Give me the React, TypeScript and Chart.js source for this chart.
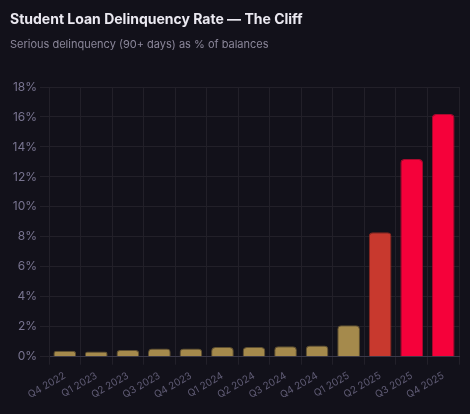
import React, { useEffect, useRef } from "react";
import { Chart, registerables } from "chart.js";

Chart.register(...registerables);

const categories = [
  "Q4 2022", "Q1 2023", "Q2 2023", "Q3 2023", "Q4 2023", "Q1 2024", "Q2 2024",
  "Q3 2024", "Q4 2024", "Q1 2025", "Q2 2025", "Q3 2025", "Q4 2025",
];
const rates = [0.4, 0.35, 0.45, 0.55, 0.55, 0.65, 0.65, 0.7, 0.75, 2.1, 8.3, 13.2, 16.2];
const barColors = [
  "#a58a4c", "#a58a4c", "#a58a4c", "#a58a4c", "#a58a4c", "#a58a4c", "#a58a4c",
  "#a58a4c", "#a58a4c", "#a58a4c", "#c8392e", "#f5013a", "#f5013a",
];
const borderColors = [
  "#5e4f30", "#5e4f30", "#5e4f30", "#5e4f30", "#5e4f30", "#5e4f30", "#5e4f30",
  "#5e4f30", "#5e4f30", "#5e4f30", "#8a2820", "#a80a2e", "#a80a2e",
];

const BG = "#12111a";

export default function App() {
  const ref = useRef<HTMLCanvasElement>(null);
  useEffect(() => {
    document.body.style.margin = "0";
    document.body.style.background = BG;
    const chart = new Chart(ref.current!, {
      type: "bar",
      data: {
        labels: categories,
        datasets: [
          {
            data: rates,
            backgroundColor: barColors,
            borderColor: borderColors,
            borderWidth: 1,
            borderRadius: 4,
            borderSkipped: "bottom",
          },
        ],
      },
      options: {
        animation: false,
        responsive: false,
        devicePixelRatio: 1,
        layout: { padding: { left: 10, right: 11, top: 0, bottom: 8 } },
        plugins: {
          legend: { display: false },
          tooltip: { enabled: false },
          title: {
            display: true,
            text: "Student Loan Delinquency Rate — The Cliff",
            align: "start",
            color: "#ebe9f1",
            font: { family: "Inter", size: 14, weight: "bold" },
            padding: { top: 11, bottom: 9 },
          },
          subtitle: {
            display: true,
            text: "Serious delinquency (90+ days) as % of balances",
            align: "start",
            color: "#8b879a",
            font: { family: "Inter", size: 11 },
            padding: { top: 1, bottom: 36 },
          },
        },
        scales: {
          x: {
            grid: { color: "#222029", tickLength: 8 },
            border: { color: "#3a3848" },
            ticks: {
              color: "#5f5b74",
              font: { family: "Inter", size: 10 },
              minRotation: 30,
              maxRotation: 30,
              padding: 5,
            },
          },
          y: {
            min: 0,
            max: 18,
            grid: { color: "#222029", tickLength: 9 },
            border: { color: "#222029" },
            afterFit: (scale: any) => {
              scale.width = 39;
            },
            ticks: {
              stepSize: 2,
              color: "#787490",
              font: { family: "Inter", size: 12 },
              padding: 3,
              callback: (v: any) => v + "%",
            },
          },
        },
      },
    });
    return () => chart.destroy();
  }, []);
  return (
    <div style={{ width: 470, height: 414, background: BG }}>
      <canvas ref={ref} width={470} height={414} />
    </div>
  );
}
